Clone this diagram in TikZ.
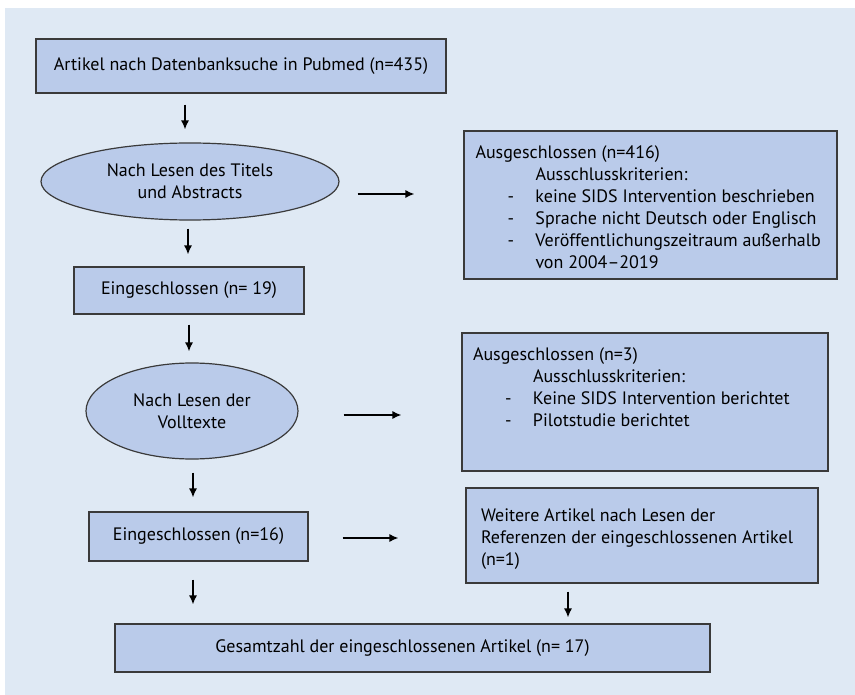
\documentclass[tikz,border=0pt]{standalone}
\usepackage{fontspec}
\setmainfont{PT Sans}
\usetikzlibrary{shapes.geometric,arrows.meta}

\definecolor{bgblue}{HTML}{DFE9F4}
\definecolor{boxblue}{HTML}{BACBEA}
\definecolor{edgegray}{HTML}{3A3A3A}

\tikzset{
  flowbox/.style={draw=edgegray, fill=boxblue, line width=1.2pt, inner sep=0pt},
  readell/.style={ellipse, draw=edgegray, fill=boxblue, line width=1.2pt, inner sep=0pt, align=center},
}
\newcommand{\critline}[1]{\makebox[60pt][l]{\hspace*{32pt}-}#1}

\begin{document}
\begin{tikzpicture}[x=1pt, y=-1pt, ->, >={Latex[length=9pt,width=8pt]}, line width=1.3pt,
  font=\fontsize{18}{22}\selectfont]
\useasboundingbox (0,0) rectangle (855,695);
\fill[bgblue] (5,8) rectangle (855,695);

% linke Spalte
\node (search) [flowbox, minimum width=410pt, minimum height=54pt] at (241,66)
  {Artikel nach Datenbanksuche in Pubmed (n=435)};
\node (title) [readell, minimum width=298pt, minimum height=77pt] at (190,181.5)
  {Nach Lesen des Titels\\und Abstracts};
\node (incl19) [flowbox, minimum width=230pt, minimum height=47pt] at (189,290.5)
  {Eingeschlossen (n= 19)};
\node (full) [readell, minimum width=212pt, minimum height=96pt] at (192,411)
  {Nach Lesen der\\Volltexte};
\node (incl16) [flowbox, minimum width=219pt, minimum height=49pt] at (198.5,536.5)
  {Eingeschlossen (n=16)};
\node (total) [flowbox, minimum width=595pt, minimum height=48pt] at (412.5,648)
  {\hspace*{-20pt}Gesamtzahl der eingeschlossenen Artikel (n= 17)};

% rechte Spalte
\node (excl416) [flowbox, minimum width=373pt, minimum height=148pt] at (650.5,205)
  {\parbox[c][118pt][t]{350pt}{Ausgeschlossen (n=416)\\
   \hspace*{60pt}Ausschlusskriterien:\\
   \critline{keine SIDS Intervention beschrieben}\\
   \critline{Sprache nicht Deutsch oder Englisch}\\
   \critline{Veröffentlichungszeitraum außerhalb}\\
   \hspace*{60pt}von 2004–2019}};
\node (excl3) [flowbox, minimum width=366pt, minimum height=138pt] at (645,402)
  {\parbox[c][108pt][t]{344pt}{Ausgeschlossen (n=3)\\
   \hspace*{60pt}Ausschlusskriterien:\\
   \critline{Keine SIDS Intervention berichtet}\\
   \critline{Pilotstudie berichtet}}};
\node (refs) [flowbox, minimum width=352pt, minimum height=95pt] at (642,535.5)
  {\parbox[c][53pt][t]{322pt}{Weitere Artikel nach Lesen der\\
   Referenzen der eingeschlossenen Artikel\\
   (n=1)}};

% Pfeile
\draw[shorten <=11pt, shorten >=13pt] ([xshift=-5pt]title.north |- search.south) -- ([xshift=-5pt]title.north);
\draw[shorten <=8pt, shorten >=12pt] ([xshift=-2pt]title.south) -- ([xshift=-2pt]title.south |- incl19.north);
\draw[shorten <=10pt, shorten >=11pt] ([xshift=-3pt]full.north |- incl19.south) -- ([xshift=-3pt]full.north);
\draw[shorten <=13pt, shorten >=14pt] ([xshift=1pt]full.south) -- ([xshift=1pt]full.south |- incl16.north);
\draw[shorten <=18pt, shorten >=19pt] ([xshift=-5.5pt]incl16.south) -- ([xshift=-5.5pt]incl16.south |- total.north);
\draw[shorten <=8pt, shorten >=6pt] ([xshift=-74pt]refs.south) -- ([xshift=-74pt]refs.south |- total.north);
\draw[shorten <=18pt, shorten >=49pt] ([yshift=-12.5pt]title.east) -- ([yshift=-12.5pt]title.east -| excl416.west);
\draw[shorten <=45pt, shorten >=60pt] ([yshift=-4pt]full.east) -- ([yshift=-4pt]full.east -| excl3.west);
\draw[shorten <=34pt, shorten >=67pt] ([yshift=-1.5pt]incl16.east) -- ([yshift=-1.5pt]incl16.east -| refs.west);
\end{tikzpicture}
\end{document}
